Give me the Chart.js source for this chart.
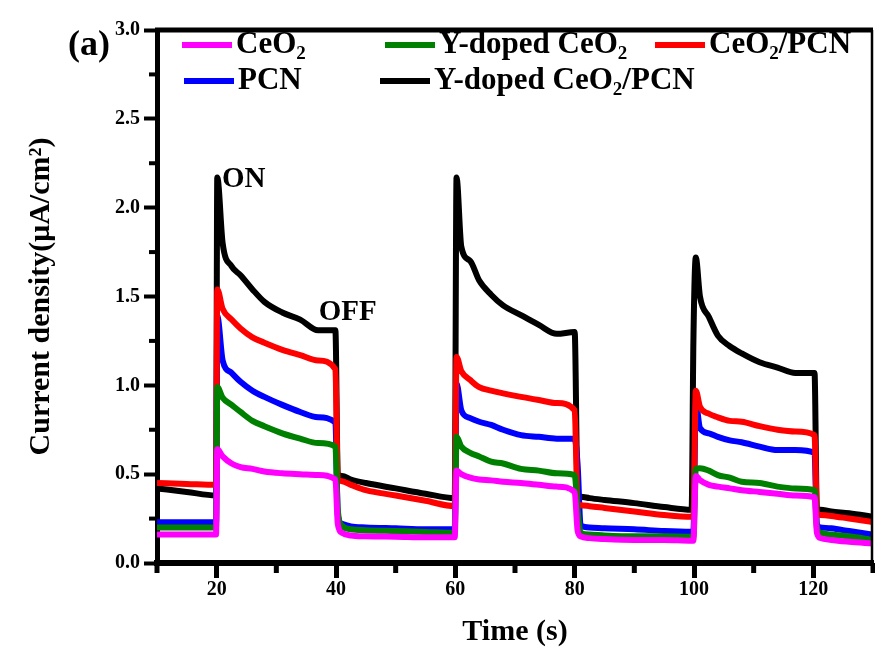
<!DOCTYPE html>
<html><head><meta charset="utf-8">
<script src="https://cdn.jsdelivr.net/npm/chart.js@4.4.0/dist/chart.umd.min.js"></script>
<style>html,body{margin:0;padding:0;background:#fff;}#wrap{width:875px;height:652px;position:relative;}</style>
</head><body><div id="wrap"><canvas id="c" width="875" height="652"></canvas></div>
<script>
// ---- data ----
const time = [10, 15, 19.9,
  20.1, 21, 22.5, 24, 26, 28, 31, 34, 37, 39.9,
  40.3, 41, 42.5, 45, 50, 55, 59.9,
  60.2, 61, 62.5, 64, 66, 68, 71, 74, 77, 80,
  80.5, 81, 82.5, 85, 90, 95, 99.6, 99.9,
  100.3, 101, 102.5, 104, 106, 108, 111, 114, 117, 120.2,
  120.6, 121.2, 123, 126, 130];
const ceo2 = [0.16, 0.16, 0.16,
  0.64, 0.60, 0.56, 0.54, 0.53, 0.515, 0.505, 0.50, 0.495, 0.47,
  0.22, 0.17, 0.155, 0.15, 0.148, 0.145, 0.145,
  0.52, 0.50, 0.48, 0.47, 0.465, 0.457, 0.45, 0.44, 0.43, 0.40,
  0.18, 0.15, 0.14, 0.135, 0.13, 0.13, 0.125, 0.125,
  0.49, 0.467, 0.44, 0.43, 0.42, 0.41, 0.40, 0.39, 0.38, 0.37,
  0.17, 0.14, 0.13, 0.12, 0.11];
const yCeo2 = [0.20, 0.20, 0.20,
  0.99, 0.93, 0.89, 0.85, 0.80, 0.77, 0.73, 0.70, 0.675, 0.655,
  0.30, 0.21, 0.19, 0.185, 0.18, 0.175, 0.17,
  0.71, 0.655, 0.62, 0.60, 0.57, 0.56, 0.53, 0.52, 0.505, 0.495,
  0.30, 0.17, 0.16, 0.155, 0.15, 0.15, 0.148, 0.148,
  0.53, 0.534, 0.52, 0.495, 0.48, 0.457, 0.45, 0.43, 0.42, 0.41,
  0.20, 0.17, 0.16, 0.15, 0.13];
const ceo2Pcn = [0.45, 0.445, 0.44,
  1.54, 1.43, 1.37, 1.32, 1.27, 1.24, 1.20, 1.17, 1.14, 1.09,
  0.47, 0.46, 0.44, 0.41, 0.38, 0.35, 0.32,
  1.16, 1.08, 1.03, 0.99, 0.97, 0.955, 0.935, 0.917, 0.90, 0.86,
  0.33, 0.325, 0.32, 0.31, 0.29, 0.27, 0.26, 0.26,
  0.97, 0.88, 0.84, 0.82, 0.80, 0.795, 0.77, 0.75, 0.74, 0.72,
  0.28, 0.27, 0.265, 0.25, 0.23];
const pcn = [0.23, 0.23, 0.23,
  1.39, 1.14, 1.07, 1.02, 0.97, 0.935, 0.89, 0.85, 0.82, 0.79,
  0.27, 0.22, 0.205, 0.20, 0.195, 0.19, 0.19,
  1.01, 0.86, 0.815, 0.795, 0.777, 0.75, 0.72, 0.71, 0.70, 0.70,
  0.55, 0.21, 0.20, 0.195, 0.19, 0.18, 0.176, 0.176,
  0.90, 0.76, 0.73, 0.71, 0.69, 0.68, 0.655, 0.636, 0.636, 0.62,
  0.22, 0.20, 0.195, 0.18, 0.16];
const yCeo2Pcn = [0.42, 0.40, 0.38,
  2.17, 1.80, 1.67, 1.62, 1.54, 1.47, 1.41, 1.37, 1.31, 1.31,
  0.50, 0.49, 0.47, 0.45, 0.42, 0.39, 0.365,
  2.17, 1.78, 1.70, 1.59, 1.51, 1.45, 1.395, 1.34, 1.29, 1.30,
  0.38, 0.373, 0.365, 0.355, 0.337, 0.315, 0.30, 1.25,
  1.72, 1.50, 1.385, 1.28, 1.22, 1.18, 1.13, 1.10, 1.07, 1.07,
  0.30, 0.30, 0.29, 0.28, 0.26];
const seriesLabels = ['CeO₂', 'Y-doped CeO₂', 'CeO₂/PCN', 'PCN', 'Y-doped CeO₂/PCN'];
const seriesColors = ['#FF00FF', '#008000', '#FF0000', '#0000FF', '#000000'];
const xTicks = [20, 40, 60, 80, 100, 120];
const xMinorTicks = [10, 30, 50, 70, 90, 110, 130];
const yTicks = [0, 0.5, 1.0, 1.5, 2.0, 2.5, 3.0];
const yMinorTicks = [0.25, 0.75, 1.25, 1.75, 2.25, 2.75];
const notes = [{text: 'ON', x: 20.9, y: 2.16}, {text: 'OFF', x: 37.1, y: 1.41}];

// ---- chart ----
const FONT = '"Liberation Serif", "Times New Roman", serif';
const allSeries = [ceo2, yCeo2, ceo2Pcn, pcn, yCeo2Pcn];
const datasets = allSeries.map((arr, i) => ({
  label: seriesLabels[i],
  data: time.map((t, k) => ({x: t, y: arr[k]})),
  borderColor: seriesColors[i],
  backgroundColor: seriesColors[i],
  borderWidth: 6,
  pointRadius: 0,
  cubicInterpolationMode: 'monotone',
  borderJoinStyle: 'bevel',
  fill: false
}));

function drawRich(ctx, text, x, y, size) {
  const parts = text.split('₂');
  let cx = x;
  parts.forEach((p, i) => {
    ctx.font = 'bold ' + size + 'px ' + FONT;
    ctx.fillText(p, cx, y);
    cx += ctx.measureText(p).width;
    if (i < parts.length - 1) {
      const s = Math.round(size * 0.62);
      ctx.font = 'bold ' + s + 'px ' + FONT;
      ctx.fillText('2', cx, y + size * 0.3);
      cx += ctx.measureText('2').width;
    }
  });
}

const decor = {
  id: 'decor',
  afterDraw(chart) {
    const {ctx, chartArea: ca, scales} = chart;
    ctx.save();
    ctx.strokeStyle = '#000';
    ctx.fillStyle = '#000';
    // top and right frame
    ctx.lineWidth = 5;
    ctx.beginPath(); ctx.moveTo(ca.left - 2, ca.top); ctx.lineTo(ca.right, ca.top); ctx.stroke();
    ctx.lineWidth = 2.5;
    ctx.beginPath(); ctx.moveTo(ca.right - 1, ca.top); ctx.lineTo(ca.right - 1, ca.bottom); ctx.stroke();
    // minor ticks
    ctx.lineWidth = 5;
    xMinorTicks.forEach(v => {
      const px = scales.x.getPixelForValue(v);
      ctx.beginPath(); ctx.moveTo(px, ca.bottom); ctx.lineTo(px, ca.bottom + 10); ctx.stroke();
    });
    ctx.lineWidth = 4;
    yMinorTicks.forEach(v => {
      const py = scales.y.getPixelForValue(v);
      ctx.beginPath(); ctx.moveTo(ca.left, py); ctx.lineTo(ca.left - 8, py); ctx.stroke();
    });
    // ON / OFF notes
    ctx.textBaseline = 'middle';
    ctx.textAlign = 'left';
    ctx.font = 'bold 29px ' + FONT;
    notes.forEach(n => {
      ctx.fillText(n.text, scales.x.getPixelForValue(n.x), scales.y.getPixelForValue(n.y));
    });
    // panel label
    ctx.font = 'bold 36px ' + FONT;
    ctx.fillText('(a)', 68, 46);
    // legend
    const pos = [[182, 45], [385, 45], [655, 45], [184, 81], [380, 81]];
    seriesLabels.forEach((lab, i) => {
      const [lx, ly] = pos[i];
      ctx.strokeStyle = seriesColors[i];
      ctx.lineWidth = 6;
      ctx.beginPath(); ctx.moveTo(lx, ly); ctx.lineTo(lx + 50, ly); ctx.stroke();
      ctx.fillStyle = '#000';
      drawRich(ctx, lab, lx + 54, ly, 31);
    });
    ctx.restore();
  }
};

new Chart(document.getElementById('c'), {
  type: 'line',
  data: {datasets},
  plugins: [decor],
  options: {
    responsive: false,
    animation: false,
    devicePixelRatio: 1,
    layout: {padding: {left: 0, right: 2, top: 30, bottom: 0}},
    plugins: {legend: {display: false}, tooltip: {enabled: false}},
    scales: {
      x: {
        type: 'linear', min: 10, max: 130,
        afterBuildTicks: s => { s.ticks = xTicks.map(v => ({value: v})); },
        afterFit: s => { s.height = 89; },
        ticks: {font: {family: FONT, size: 20, weight: 'bold'}, color: '#000', padding: 0, maxRotation: 0, autoSkip: false},
        grid: {display: true, drawOnChartArea: false, drawTicks: true, tickLength: 15, tickWidth: 5, tickColor: '#000'},
        border: {display: true, width: 6, color: '#000'},
        title: {display: true, text: 'Time (s)', color: '#000', font: {family: FONT, size: 30, weight: 'bold'}, padding: {top: 0, bottom: 2}}
      },
      y: {
        type: 'linear', min: 0, max: 3,
        afterBuildTicks: s => { s.ticks = yTicks.map(v => ({value: v})); },
        afterFit: s => { s.width = 157; },
        ticks: {font: {family: FONT, size: 20, weight: 'bold'}, color: '#000', padding: 4, callback: v => Number(v).toFixed(1)},
        grid: {display: true, drawOnChartArea: false, drawTicks: true, tickLength: 13, tickWidth: 4, tickColor: '#000'},
        border: {display: true, width: 5, color: '#000'},
        title: {display: true, text: 'Current density(μA/cm²)', color: '#000', font: {family: FONT, size: 30, weight: 'bold'}, padding: {top: 23, bottom: 0}}
      }
    }
  }
});
</script></body></html>
